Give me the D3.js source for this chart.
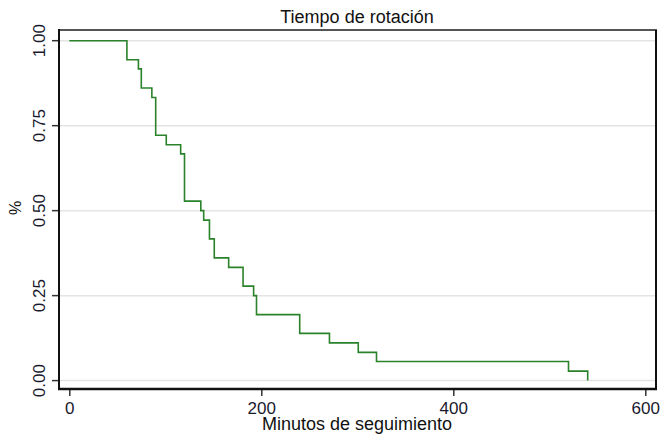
<!DOCTYPE html>
<html>
<head>
<meta charset="utf-8">
<script src="https://cdn.jsdelivr.net/npm/d3@7"></script>
<style>
  html, body { margin: 0; padding: 0; background: #fff; }
  svg { display: block; font-family: "Liberation Sans", Arial, sans-serif; }
</style>
</head>
<body>
<svg id="chart" width="662" height="437"></svg>
<script>
const times = [0, 60, 72, 75, 86, 90, 101, 116, 120, 137, 140, 146, 151, 166, 181, 192, 195, 240, 271, 301, 320, 520, 540];
const survival = [1.000, 0.944, 0.917, 0.861, 0.833, 0.722, 0.694, 0.667, 0.528, 0.500, 0.472, 0.417, 0.361, 0.333, 0.278, 0.250, 0.194, 0.139, 0.111, 0.083, 0.056, 0.028, 0.000];
const xTicks = [0, 200, 400, 600];
const yTicks = [0, 0.25, 0.5, 0.75, 1];
const yTickLabels = ["0.00", "0.25", "0.50", "0.75", "1.00"];
const title = "Tiempo de rotación";
const xLabel = "Minutos de seguimiento";
const yLabel = "%";

const svg = d3.select("#chart");
const box = { left: 59, right: 656, top: 30, bottom: 389 };
const x = d3.scaleLinear().domain([0, 600]).range([69.3, 645.3]);
const y = d3.scaleLinear().domain([0, 1]).range([380.6, 40.7]);

// gridlines
svg.append("g").selectAll("line").data(yTicks).join("line")
  .attr("x1", box.left).attr("x2", box.right)
  .attr("y1", d => y(d)).attr("y2", d => y(d))
  .attr("stroke", "#e4e4e4").attr("stroke-width", 1.5);

// top & right border
svg.append("line").attr("x1", box.left).attr("x2", box.right + 1)
  .attr("y1", box.top).attr("y2", box.top).attr("stroke", "#555").attr("stroke-width", 2);
svg.append("line").attr("x1", box.right).attr("x2", box.right)
  .attr("y1", box.top).attr("y2", box.bottom).attr("stroke", "#111").attr("stroke-width", 2);

// Y axis
const yAxis = d3.axisLeft(y).tickValues(yTicks).tickSize(7).tickPadding(6)
  .tickFormat((d, i) => yTickLabels[i]);
const gy = svg.append("g").attr("transform", `translate(${box.left},0)`).call(yAxis);
gy.select(".domain").remove();
gy.selectAll(".tick").attr("transform", null);
gy.selectAll(".tick line").attr("y1", d => y(d)).attr("y2", d => y(d))
  .attr("stroke", "#333").attr("stroke-width", 1.5);
gy.selectAll(".tick text")
  .attr("x", 0).attr("y", 0).attr("dy", 0)
  .attr("transform", d => `translate(-14,${y(d)}) rotate(-90)`)
  .attr("text-anchor", "middle")
  .attr("font-size", 17).attr("fill", "#1a1a2e");

svg.append("line").attr("x1", box.left).attr("x2", box.left)
  .attr("y1", box.top - 1).attr("y2", box.bottom + 1).attr("stroke", "#111").attr("stroke-width", 2);

// X axis
const xAxis = d3.axisBottom(x).tickValues(xTicks).tickSize(7).tickPadding(6).tickFormat(d3.format("d"));
const gx = svg.append("g").attr("transform", `translate(0,${box.bottom})`).call(xAxis);
gx.select(".domain").remove();
gx.selectAll(".tick line").attr("stroke", "#333").attr("stroke-width", 1.5);
gx.selectAll(".tick text").attr("font-size", 17).attr("fill", "#1a1a2e")
  .attr("y", 25).attr("dy", 0);
svg.append("line").attr("x1", box.left - 1).attr("x2", box.right + 1)
  .attr("y1", box.bottom).attr("y2", box.bottom).attr("stroke", "#111").attr("stroke-width", 2.5);

// survival step line
const pts = times.map((t, i) => [t, survival[i]]);
const line = d3.line().x(d => x(d[0])).y(d => y(d[1])).curve(d3.curveStepAfter);
svg.append("path").datum(pts).attr("d", line)
  .attr("fill", "none").attr("stroke", "#2a822a").attr("stroke-width", 1.6);

// texts
svg.append("text").attr("x", 357).attr("y", 23).attr("text-anchor", "middle")
  .attr("font-size", 18).attr("fill", "#111").text(title);
svg.append("text").attr("x", 357).attr("y", 430).attr("text-anchor", "middle")
  .attr("font-size", 18).attr("fill", "#111").text(xLabel);
svg.append("text").attr("transform", "translate(21,208) rotate(-90)").attr("text-anchor", "middle")
  .attr("font-size", 16).attr("fill", "#111").text(yLabel);
</script>
</body>
</html>
